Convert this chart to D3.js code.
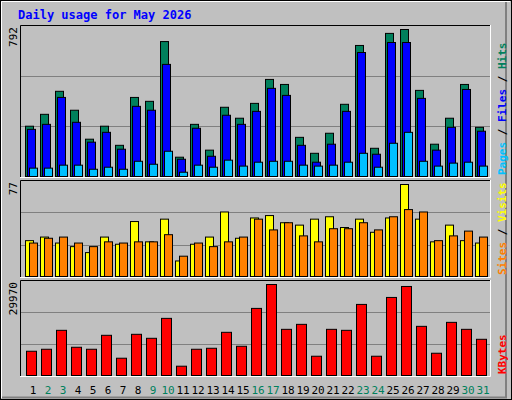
<!DOCTYPE html>
<html><head><meta charset="utf-8">
<script src="https://cdn.jsdelivr.net/npm/d3@7"></script>
<style>body{margin:0;background:#fff}text{font-family:"DejaVu Sans Mono",monospace}</style>
</head><body><svg id="c" width="512" height="400"></svg>
<script>
const days = d3.range(1, 32);
const weekend = [2, 3, 9, 10, 16, 17, 23, 24, 30, 31];
const hits = [271,335,459,357,201,271,168,426,405,727,104,281,142,373,314,394,523,496,211,125,233,389,706,152,771,792,464,174,314,496,265];
const files = [254,281,426,292,185,238,147,378,357,604,93,260,109,330,281,351,475,437,168,77,174,351,668,120,722,722,421,142,265,469,244];
const pages = [45,45,61,61,39,50,39,82,66,136,23,61,50,88,56,77,82,82,61,56,61,77,125,50,179,238,82,56,72,77,56];
const visits = [30,33,28,25,20,33,27,46,29,48,13,27,33,54,32,49,51,45,43,48,50,41,48,37,49,77,48,29,43,30,28];
const sites = [28,32,33,28,25,29,28,29,29,35,17,28,25,29,33,48,39,45,34,29,40,40,45,39,50,56,54,30,34,38,33];
const kbytes = [7986,8643,14878,9299,8643,13237,5689,13565,12252,18816,3063,8643,8970,14222,9627,22098,29970,15206,16847,6345,15206,14878,23411,6345,25708,29318,16190,7330,17503,15206,11924];

const svg = d3.select("#c");
svg.append("rect").attr("x",0.5).attr("y",0.5).attr("width",511).attr("height",399).attr("fill","#c0c0c0").attr("stroke","#000");
svg.append("path").attr("d","M1.5,398V1.5H510").attr("stroke","#fff").attr("fill","none");
svg.append("path").attr("d","M2,397.5H506V2").attr("stroke","#808080").attr("stroke-width",2).attr("fill","none");

svg.append("text").attr("x",18).attr("y",19).attr("fill","#0000ff").attr("font-size",12).attr("font-weight","bold").text("Daily usage for May 2026");

const x = d3.scaleLinear().domain([1, 31]).range([25, 475]);
const L = 20, R = 490;

function panel(top, bottom, yTop, max, label, parts) {
  svg.append("path").attr("d",`M${L+0.5},${bottom}V${top+0.5}H${R}`).attr("stroke","#000").attr("fill","none");
  svg.append("path").attr("d",`M${L},${bottom+0.5}H${R+0.5}V${top}`).attr("stroke","#fff").attr("fill","none");
  const h = bottom - top;
  [1/3, 2/3].forEach(f => svg.append("line").attr("x1",L+1).attr("x2",R).attr("y1",Math.round(top+h*f)+0.5).attr("y2",Math.round(top+h*f)+0.5).attr("stroke","#808080"));
  svg.append("text").attr("transform",`translate(17,${top+2}) rotate(-90)`).attr("text-anchor","end").attr("font-size",11).text(max);
  const t = svg.append("text").attr("transform",`translate(506,${bottom-2}) rotate(-90)`).attr("font-size",11).attr("font-weight","bold");
  label.forEach(([s, c], i) => {
    if (i) t.append("tspan").attr("fill","#000").text(" / ");
    t.append("tspan").attr("fill",c).text(s);
  });
  return d3.scaleLinear().domain([0, max]).range([bottom - 1, yTop]);
}

function bars(y, data, dx, w, color) {
  svg.append("g").selectAll("rect").data(data).join("rect")
    .attr("x", (d, i) => x(i + 1) + dx + 0.5).attr("width", w)
    .attr("y", d => y(d) + 0.5).attr("height", d => y(0) - y(d))
    .attr("fill", color).attr("stroke", "#000");
}

const y1 = panel(25, 177, 29, 792, [["Pages","#00c0ff"],["Files","#0000ff"],["Hits","#00805c"]]);
bars(y1, hits, 0, 8, "#00805c");
bars(y1, files, 2, 8, "#0000ff");
bars(y1, pages, 4, 8, "#00c0ff");

const y2 = panel(180, 277, 184, 77, [["Sites","#ff8000"],["Visits","#ffff00"]]);
bars(y2, visits, 0, 8, "#ffff00");
bars(y2, sites, 4, 8, "#ff8000");

const y3 = panel(280, 376, 284, 29970, [["KBytes","#ff0000"]]);
bars(y3, kbytes, 1, 10, "#ff0000");

svg.append("g").selectAll("text").data(days).join("text")
  .attr("x", d => x(d) + 8).attr("y", 394).attr("text-anchor","middle").attr("font-size",11)
  .attr("fill", d => weekend.includes(d) ? "#00805c" : "#000").text(d => d);
</script></body></html>
